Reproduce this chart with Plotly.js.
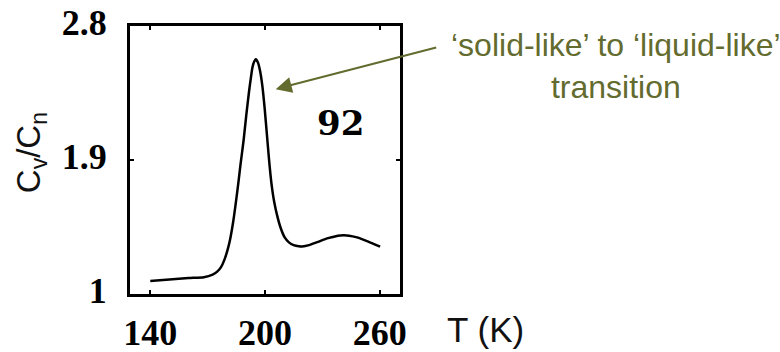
<!DOCTYPE html>
<html>
<head>
<meta charset="utf-8">
<script src="https://cdn.plot.ly/plotly-3.0.1.min.js"></script>
<style>html,body{margin:0;padding:0;background:#fff;}#chart{width:780px;height:352px;}</style>
</head>
<body>
<div id="chart"></div>
<script>
// Temperature (K)
const temperature = [140, 150, 160, 168, 172.6, 175, 177, 178.8, 180.5, 181.8, 183.3, 184.7, 186.0, 187.2, 188.8, 190.2, 191.7, 192.6, 193.4, 194.3, 195.2, 196.3, 197.4, 198.6, 199.8, 201.0, 202.2, 203.4, 204.8, 206.5, 208.3, 210.3, 212.5, 215, 217.7, 219.5, 223, 227.3, 233, 239.4, 244, 248.1, 254, 260.2];
// Cv/Cn ratio
const cvRatio = [1.087, 1.097, 1.107, 1.113, 1.13, 1.15, 1.18, 1.231, 1.30, 1.37, 1.48, 1.609, 1.74, 1.87, 2.031, 2.20, 2.365, 2.45, 2.52, 2.56, 2.576, 2.555, 2.50, 2.40, 2.25, 2.07, 1.89, 1.74, 1.62, 1.52, 1.44, 1.38, 1.347, 1.328, 1.32, 1.319, 1.328, 1.348, 1.375, 1.393, 1.392, 1.38, 1.352, 1.318];

const xTicks = [140, 200, 260];
const yTicks = [1, 1.9, 2.8];
const yTickLabels = ['1', '1.9', '2.8'];

const olive = '#636b2e';

const trace = {
  x: temperature, y: cvRatio, type: 'scatter', mode: 'lines',
  line: {color: '#000', width: 2.5, shape: 'spline', smoothing: 0.6},
  hoverinfo: 'skip', showlegend: false
};

const tickFont = {family: '"Liberation Serif", "Times New Roman", serif', size: 36, color: '#000', weight: 'bold'};

const layout = {
  width: 780, height: 352,
  margin: {l: 130, r: 380, t: 26, b: 58, pad: 0},
  paper_bgcolor: '#fff', plot_bgcolor: '#fff',
  showlegend: false,
  xaxis: {
    range: [129.4, 270.6], tickvals: xTicks, ticktext: xTicks.map(String),
    ticks: 'inside', ticklen: 4, tickwidth: 2, tickcolor: '#000',
    showline: true, linewidth: 3, linecolor: '#000', mirror: 'ticks',
    showgrid: false, zeroline: false, tickfont: tickFont,
    ticklabelstandoff: 5
  },
  yaxis: {
    range: [1, 2.8], tickvals: yTicks, ticktext: yTickLabels,
    ticks: 'inside', ticklen: 4, tickwidth: 2, tickcolor: '#000',
    showline: true, linewidth: 3, linecolor: '#000', mirror: 'ticks',
    showgrid: false, zeroline: false, tickfont: tickFont,
    ticklabelstandoff: 13, ticklabelshift: -4
  },
  annotations: [
    {xref: 'paper', yref: 'paper', x: 0.78, y: 0.638, xanchor: 'center', yanchor: 'middle', text: '92', showarrow: false,
     font: {family: '"DejaVu Serif", serif', size: 34, color: '#000', weight: 'bold'}},
    {xref: 'x', yref: 'y', x: 205.6, y: 2.376, ax: 162, ay: -42, text: '', showarrow: true,
     arrowhead: 2, arrowsize: 1.6, arrowwidth: 2, arrowcolor: olive, standoff: 0},
    {xref: 'paper', yref: 'paper', x: 1.8, y: 0.849, xanchor: 'center', yanchor: 'middle',
     text: '‘solid-like’ to ‘liquid-like’<br>transition', showarrow: false, align: 'center',
     font: {family: '"Liberation Sans", Arial, sans-serif', size: 32, color: olive}},
    {xref: 'paper', yref: 'paper', x: 1.1667, y: -0.134, xanchor: 'left', yanchor: 'middle',
     text: 'T (K)', showarrow: false,
     font: {family: '"Liberation Sans", Arial, sans-serif', size: 35, color: '#111'}},
    {xref: 'paper', yref: 'paper', x: -0.366, y: 0.526, xanchor: 'center', yanchor: 'middle',
     text: 'C<sub>v</sub>/C<sub>n</sub>', showarrow: false, textangle: -90,
     font: {family: '"Liberation Sans", Arial, sans-serif', size: 33, color: '#111'}}
  ]
};

Plotly.newPlot('chart', [trace], layout, {staticPlot: true, displayModeBar: false});
</script>
</body>
</html>
